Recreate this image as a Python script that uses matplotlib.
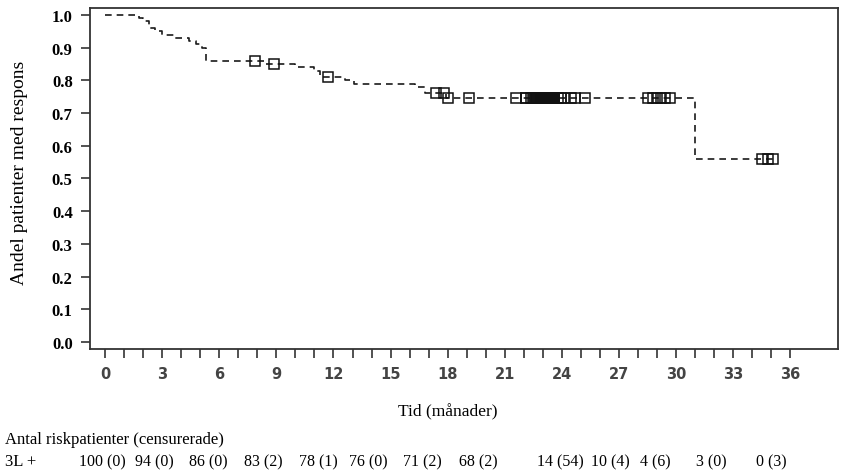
import matplotlib
matplotlib.use('Agg')
import matplotlib.pyplot as plt
import numpy as np

# Kaplan-Meier steps (time in months, share with response)
step_times = [0.0, 1.8, 2.0, 2.3, 2.6, 3.0, 3.6, 4.4, 4.8, 5.1, 5.3,
              8.4, 10.0, 11.0, 11.3, 12.6, 13.1, 16.3, 16.8, 17.9, 31.0]
step_surv = [1.0, 0.99, 0.98, 0.96, 0.95, 0.94, 0.93, 0.92, 0.91, 0.90, 0.86,
             0.85, 0.84, 0.83, 0.81, 0.80, 0.79, 0.78, 0.76, 0.746, 0.56]
curve_end = 35.2

# censored observations (time in months)
censor_times = [7.9, 8.9, 11.7, 17.4, 17.8, 18.0, 19.1,
                21.6, 22.1, 22.1, 22.4, 22.5, 22.6, 22.7, 22.7, 22.75, 22.8,
                22.8, 22.85, 22.9, 22.9, 22.9, 22.95, 23.0, 23.0, 23.0, 23.05,
                23.1, 23.1, 23.1, 23.15, 23.2, 23.2, 23.2, 23.2, 23.25, 23.3,
                23.3, 23.3, 23.35, 23.4, 23.4, 23.4, 23.45, 23.5, 23.5, 23.5,
                23.55, 23.6, 23.6, 23.6, 23.8, 23.95, 22.55,
                24.1, 24.5, 24.7, 25.2,
                28.5, 28.8, 29.0, 29.2, 29.4, 29.7,
                34.5, 34.8, 35.1]

x_ticks = list(range(0, 37, 3))
y_ticks = [0.0, 0.1, 0.2, 0.3, 0.4, 0.5, 0.6, 0.7, 0.8, 0.9, 1.0]

risk_title = 'Antal riskpatienter (censurerade)'
risk_group = '3L +'
risk_labels = ['100 (0)', '94 (0)', '86 (0)', '83 (2)', '78 (1)', '76 (0)',
               '71 (2)', '68 (2)', '14 (54)', '10 (4)', '4 (6)', '3 (0)', '0 (3)']
# horizontal centres of the risk table entries, in pixels of the figure
risk_px = [102, 154, 208, 263, 318, 368, 422, 478, 560, 610, 655, 711, 771]

W, H = 851, 477
serif = ['Liberation Serif', 'DejaVu Serif']


def main():
    fig = plt.figure(figsize=(W / 100, H / 100), dpi=100)
    ax = fig.add_axes([90 / W, 1 - 350 / H, 748 / W, 341 / H])

    t = np.array(step_times + [curve_end])
    s = np.array(step_surv + [step_surv[-1]])
    ax.step(t, s, where='post', color='#1a1a1a', lw=1.2,
            linestyle=(0, (4, 3)))

    ct = np.array(censor_times)
    idx = np.searchsorted(np.array(step_times), ct, side='right') - 1
    cs = np.array(step_surv)[idx]
    ax.plot(ct, cs, linestyle='none', marker='s', markersize=7.5,
            mfc='none', mec='#111111', mew=1.1)

    ax.set_xlim(-0.79, 38.5)
    ax.set_ylim(-0.021, 1.021)

    ax.set_xticks(x_ticks)
    ax.set_xticks(range(0, 37), minor=True)
    ax.set_yticks(y_ticks)
    ax.set_yticklabels(['%.1f' % v for v in y_ticks])

    ax.tick_params(axis='x', which='both', direction='out', length=6.5,
                   width=1.2, color='#333333', pad=6)
    ax.tick_params(axis='x', labelsize=10.5, labelcolor='#444444')
    ax.tick_params(axis='y', direction='out', length=6.5, width=1.2,
                   color='#333333', pad=6)
    for lab in ax.get_xticklabels():
        lab.set_family('DejaVu Sans')
        lab.set_fontweight('bold')
    for lab in ax.get_yticklabels():
        lab.set_family(serif)
        lab.set_fontweight('bold')
        lab.set_fontsize(12)

    for sp in ax.spines.values():
        sp.set_color('#333333')
        sp.set_linewidth(1.3)

    ax.set_ylabel('Andel patienter med respons', family=serif, fontsize=14)
    ax.yaxis.set_label_coords(-0.083, 0.52)

    fig.text(448 / W, 1 - 412 / H, 'Tid (månader)', family=serif,
             fontsize=12.5, ha='center', va='center')

    fig.text(5 / W, 1 - 440 / H, risk_title, family=serif, fontsize=12,
             ha='left', va='center')
    fig.text(5 / W, 1 - 462 / H, risk_group, family=serif, fontsize=12,
             ha='left', va='center')
    for lab, px in zip(risk_labels, risk_px):
        fig.text(px / W, 1 - 462 / H, lab, family=serif, fontsize=11.5,
                 ha='center', va='center')

    fig.savefig('out.png', dpi=100)


if __name__ == '__main__':
    main()
